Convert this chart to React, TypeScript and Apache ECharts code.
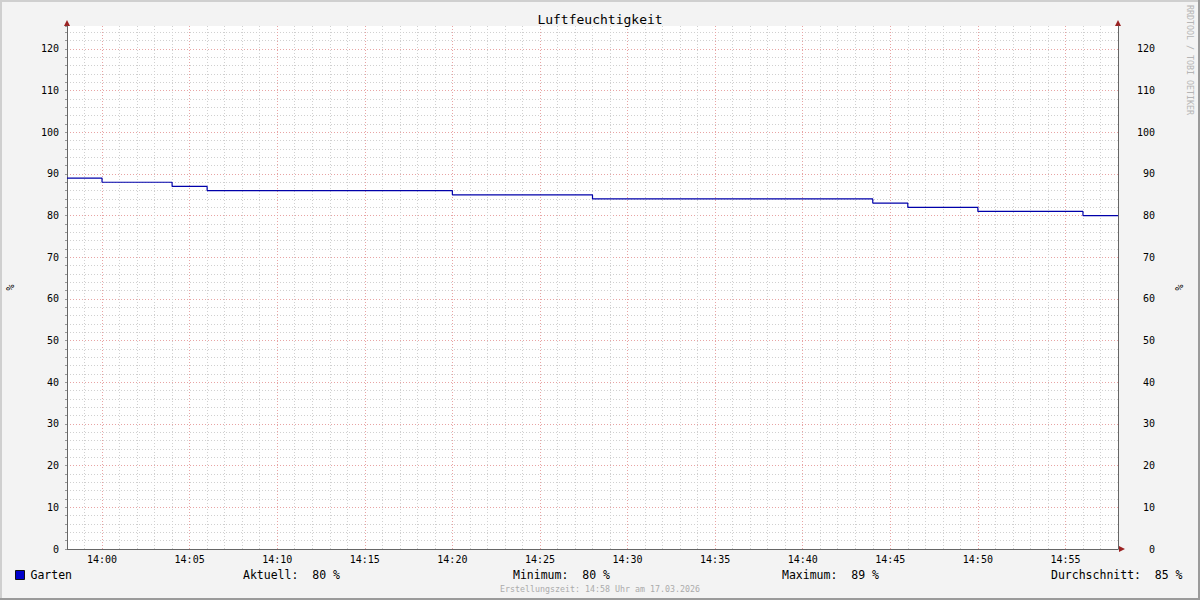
import React, { useEffect, useRef } from 'react';
import * as echarts from 'echarts';

const TITLE = 'Luftfeuchtigkeit';
const SERIES_NAME = 'Garten';
const UNIT = '%';
// times where the value changes (step holds value until next time)
const stepTimes = ['13:58', '14:00', '14:04', '14:06', '14:20', '14:28', '14:44', '14:46', '14:50', '14:56', '14:58'];
const stepValues = [89, 88, 87, 86, 85, 84, 83, 82, 81, 80, 80];
const X_BASE = '14:00';
const X_START = '13:58';
const X_END = '14:58';
const Y_MIN = 0;
const Y_MAX = 125.5;
const statLabels = ['Aktuell:', 'Minimum:', 'Maximum:', 'Durchschnitt:'];
const FOOTER = 'Erstellungszeit: 14:58 Uhr am 17.03.2026';
const WATERMARK = 'RRDTOOL / TOBI OETIKER';

const MONO = "'DejaVu Sans Mono', 'Liberation Mono', monospace";
const toMin = (t: string) => {
  const [h, m] = t.split(':').map(Number);
  return h * 60 + m;
};
const baseMin = toMin(X_BASE);
const rel = (t: string) => toMin(t) - baseMin;
const fmtTime = (v: number) => {
  const tot = baseMin + v;
  const h = Math.floor(tot / 60);
  const m = tot % 60;
  return `${String(h).padStart(2, '0')}:${String(m).padStart(2, '0')}`;
};

const GRID_MINOR = '#d0d0d0';
const GRID_MAJOR = '#e8a4a4';
const ARROW = '#9b2222';
const AXIS_COL = '#666666';

export default function App() {
  const ref = useRef<HTMLDivElement>(null);
  useEffect(() => {
    if (!ref.current) return;
    const chart = echarts.init(ref.current, undefined, { renderer: 'svg' });
    const data = stepTimes.map((t, i) => [rel(t), stepValues[i]]);
    // statistics
    const cur = stepValues[stepValues.length - 1];
    const mn = Math.min(...stepValues);
    const mx = Math.max(...stepValues);
    let sum = 0;
    let dur = 0;
    for (let i = 0; i < stepTimes.length - 1; i++) {
      const d = rel(stepTimes[i + 1]) - rel(stepTimes[i]);
      sum += stepValues[i] * d;
      dur += d;
    }
    const avg = Math.round(sum / dur);
    const statVals = [cur, mn, mx, avg];
    const statX = [243, 513, 782, 1051];

    const xMin = rel(X_START);
    const xMax = rel(X_END);

    const yLabel = (v: number) => (v % 10 === 0 ? String(v) : '');

    chart.setOption({
      animation: false,
      backgroundColor: '#f3f3f3',
      title: {
        text: TITLE,
        left: 'center',
        top: 8,
        textStyle: { fontFamily: MONO, fontSize: 13, fontWeight: 'normal', color: '#000' },
      },
      legend: {
        data: [SERIES_NAME],
        left: 15,
        top: 569,
        icon: 'rect',
        itemWidth: 9,
        itemHeight: 9,
        padding: 0,
        itemStyle: { color: '#0000cc', borderColor: '#111', borderWidth: 1 },
        textStyle: { fontFamily: MONO, fontSize: 11.5, color: '#000', padding: [0, 0, 0, 1] },
      },
      grid: {
        left: 67,
        right: 82,
        top: 26,
        bottom: 51,
        show: true,
        backgroundColor: '#ffffff',
        borderWidth: 0,
        containLabel: false,
        outerBoundsMode: 'none',
      },
      xAxis: {
        type: 'value',
        min: xMin,
        max: xMax,
        interval: 1,
        axisLine: { show: true, onZero: false, lineStyle: { color: AXIS_COL, width: 1 } },
        axisTick: { show: false },
        axisLabel: {
          formatter: (v: number) => (v % 5 === 0 && v >= 0 && v < xMax ? fmtTime(v) : ''),
          fontFamily: MONO,
          fontSize: 10,
          color: '#000',
          margin: 5,
        },
        splitLine: {
          show: true,
          lineStyle: {
            color: [GRID_MINOR, GRID_MINOR, GRID_MAJOR, GRID_MINOR, GRID_MINOR],
            type: [1, 2],
            width: 1,
          },
        },
      },
      yAxis: [
        {
          type: 'value',
          min: Y_MIN,
          max: Y_MAX,
          interval: 2,
          position: 'left',
          name: UNIT,
          nameLocation: 'middle',
          nameGap: 52,
          nameMoveOverlap: false,
          nameTextStyle: { fontFamily: MONO, fontSize: 10, color: '#000' },
          axisLine: { show: true, onZero: false, lineStyle: { color: AXIS_COL, width: 1 } },
          axisTick: { show: true, length: 2, lineStyle: { color: '#999' } },
          axisLabel: { formatter: yLabel, fontFamily: MONO, fontSize: 10, color: '#000', margin: 8 },
          splitLine: {
            show: true,
            showMaxLine: false,
            lineStyle: {
              color: [GRID_MAJOR, GRID_MINOR, GRID_MINOR, GRID_MINOR, GRID_MINOR],
              type: [1, 2],
              width: 1,
            },
          },
        },
        {
          type: 'value',
          min: Y_MIN,
          max: Y_MAX,
          interval: 2,
          position: 'right',
          name: UNIT,
          nameLocation: 'middle',
          nameGap: 56,
          nameMoveOverlap: false,
          nameTextStyle: { fontFamily: MONO, fontSize: 10, color: '#000' },
          axisLine: { show: true, onZero: false, lineStyle: { color: AXIS_COL, width: 1 } },
          axisTick: { show: false },
          axisLabel: { formatter: yLabel, fontFamily: MONO, fontSize: 10, color: '#000', margin: 37, align: 'right' },
          splitLine: { show: false },
        },
      ],
      series: [
        {
          name: SERIES_NAME,
          type: 'line',
          step: 'end',
          data,
          symbol: 'none',
          xAxisIndex: 0,
          yAxisIndex: 0,
          lineStyle: { color: '#0000aa', width: 1.2 },
          itemStyle: { color: '#0000cc' },
        },
      ],
      graphic: [
        // frame
        { type: 'rect', shape: { x: 0, y: 0, width: 1200, height: 2 }, style: { fill: '#cfcfcf' }, silent: true },
        { type: 'rect', shape: { x: 0, y: 0, width: 2, height: 600 }, style: { fill: '#cfcfcf' }, silent: true },
        { type: 'rect', shape: { x: 0, y: 598, width: 1200, height: 2 }, style: { fill: '#9a9a9a' }, silent: true },
        { type: 'rect', shape: { x: 1198, y: 0, width: 2, height: 600 }, style: { fill: '#9a9a9a' }, silent: true },
        // arrows
        { type: 'polygon', shape: { points: [[64, 26], [70, 26], [67, 20]] }, style: { fill: ARROW }, silent: true },
        { type: 'polygon', shape: { points: [[1115, 26], [1121, 26], [1118, 20]] }, style: { fill: ARROW }, silent: true },
        { type: 'polygon', shape: { points: [[1119, 546], [1119, 552], [1125, 549]] }, style: { fill: ARROW }, silent: true },
        // stats
        ...statLabels.map((lab, i) => ({
          type: 'text',
          x: statX[i],
          y: 575,
          style: {
            text: `${lab}  ${statVals[i]} ${UNIT}`,
            fontFamily: MONO,
            fontSize: 11.5,
            fill: '#000',
            textAlign: 'left',
            textVerticalAlign: 'middle',
          },
          silent: true,
        })),
        {
          type: 'text',
          x: 600,
          y: 589,
          style: {
            text: FOOTER,
            fontFamily: MONO,
            fontSize: 8.3,
            fill: '#ababab',
            textAlign: 'center',
            textVerticalAlign: 'middle',
          },
          silent: true,
        },
        {
          type: 'text',
          x: 1190,
          y: 5,
          rotation: -Math.PI / 2,
          style: {
            text: WATERMARK,
            fontFamily: MONO,
            fontSize: 8.3,
            fill: '#b5b5b5',
            textAlign: 'left',
            textVerticalAlign: 'middle',
          },
          silent: true,
        },
      ],
    });
    return () => chart.dispose();
  }, []);
  return (
    <div
      ref={ref}
      style={{ position: 'absolute', left: 0, top: 0, width: 1200, height: 600 }}
    />
  );
}
